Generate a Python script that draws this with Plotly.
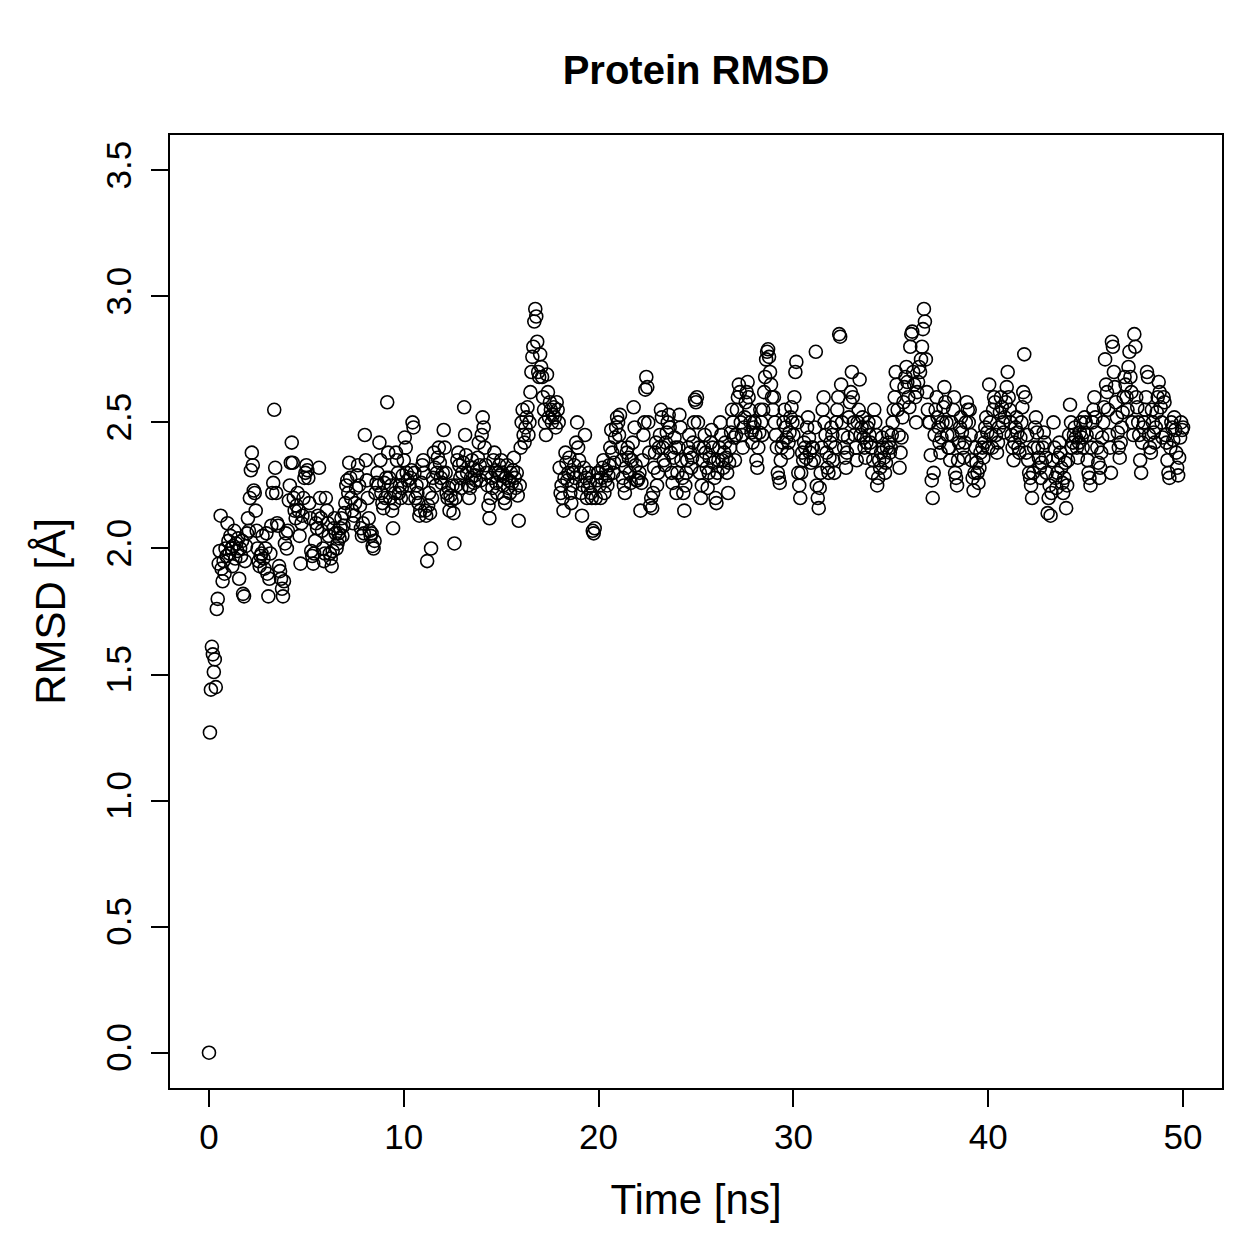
import numpy as np
import plotly.graph_objects as go

# RMSD values (Å), one frame every 0.05 ns
rmsd_rows = [
    [0.00, 1.27, 1.44, 1.61, 1.58, 1.51, 1.56, 1.45, 1.76, 1.80, 1.94, 1.99, 2.13, 1.92, 1.87, 1.95, 1.90, 2.00, 1.97, 2.10],
    [2.03, 1.98, 2.05, 2.00, 1.93, 2.01, 2.07, 1.96, 2.02, 1.99, 2.04, 1.88, 2.00, 1.97, 2.03, 1.82, 1.81, 1.95, 2.01, 2.06],
    [2.12, 2.07, 2.20, 2.31, 2.38, 2.33, 2.23, 2.22, 2.15, 2.07, 2.00, 1.95, 1.93, 1.97, 1.98, 2.05, 1.96, 1.92, 2.00, 2.06],
    [1.90, 1.81, 1.88, 1.98, 2.09, 2.22, 2.26, 2.55, 2.32, 2.22, 2.10, 2.09, 1.93, 1.91, 1.88, 1.84, 1.81, 1.87, 2.02, 2.06],
    [2.00, 2.07, 2.19, 2.25, 2.34, 2.42, 2.34, 2.20, 2.15, 2.12, 2.17, 2.22, 2.15, 2.05, 1.94, 2.10, 2.13, 2.20, 2.28, 2.30],
    [2.33, 2.31, 2.28, 2.18, 2.12, 1.99, 1.97, 1.94, 1.98, 2.03, 2.10, 2.08, 2.13, 2.32, 2.20, 2.12, 2.07, 2.00, 1.95, 1.98],
    [2.20, 2.15, 2.10, 2.05, 1.98, 1.96, 1.93, 1.99, 2.08, 2.12, 2.06, 2.00, 2.02, 2.06, 2.04, 2.08, 2.12, 2.05, 2.09, 2.14],
    [2.18, 2.25, 2.27, 2.22, 2.34, 2.28, 2.20, 2.15, 2.10, 2.13, 2.18, 2.24, 2.29, 2.33, 2.25, 2.17, 2.08, 2.05, 2.10, 2.06],
    [2.45, 2.35, 2.27, 2.20, 2.12, 2.07, 2.05, 2.06, 2.01, 2.00, 2.03, 2.22, 2.26, 2.30, 2.25, 2.42, 2.35, 2.22, 2.18, 2.16],
    [2.26, 2.20, 2.28, 2.58, 2.38, 2.28, 2.20, 2.25, 2.15, 2.08, 2.18, 2.22, 2.38, 2.35, 2.30, 2.22, 2.25, 2.20, 2.24, 2.29],
    [2.35, 2.44, 2.40, 2.30, 2.27, 2.20, 2.25, 2.28, 2.31, 2.50, 2.48, 2.30, 2.20, 2.25, 2.22, 2.18, 2.13, 2.15, 2.26, 2.33],
    [2.35, 2.30, 2.15, 2.13, 1.95, 2.17, 2.22, 2.14, 2.00, 2.20, 2.28, 2.38, 2.32, 2.25, 2.30, 2.36, 2.40, 2.34, 2.28, 2.26],
    [2.30, 2.47, 2.40, 2.30, 2.22, 2.20, 2.24, 2.15, 2.21, 2.19, 2.25, 2.14, 2.02, 2.20, 2.25, 2.35, 2.38, 2.33, 2.28, 2.24],
    [2.30, 2.34, 2.56, 2.45, 2.37, 2.30, 2.25, 2.20, 2.24, 2.28, 2.35, 2.32, 2.26, 2.29, 2.27, 2.31, 2.36, 2.42, 2.33, 2.27],
    [2.45, 2.52, 2.48, 2.40, 2.33, 2.30, 2.25, 2.17, 2.12, 2.20, 2.28, 2.24, 2.35, 2.38, 2.31, 2.26, 2.22, 2.30, 2.33, 2.29],
    [2.35, 2.30, 2.25, 2.20, 2.18, 2.28, 2.33, 2.24, 2.27, 2.22, 2.30, 2.26, 2.31, 2.36, 2.28, 2.24, 2.30, 2.21, 2.11, 2.25],
    [2.40, 2.50, 2.55, 2.45, 2.42, 2.48, 2.52, 2.56, 2.45, 2.50, 2.62, 2.70, 2.76, 2.80, 2.90, 2.95, 2.92, 2.82, 2.70, 2.68],
    [2.77, 2.72, 2.68, 2.60, 2.55, 2.50, 2.45, 2.69, 2.62, 2.52, 2.58, 2.55, 2.50, 2.53, 2.56, 2.52, 2.48, 2.58, 2.55, 2.50],
    [2.32, 2.22, 2.25, 2.20, 2.15, 2.28, 2.38, 2.34, 2.27, 2.30, 2.36, 2.22, 2.18, 2.25, 2.30, 2.33, 2.28, 2.42, 2.50, 2.40],
    [2.35, 2.30, 2.22, 2.13, 2.25, 2.32, 2.45, 2.28, 2.20, 2.24, 2.30, 2.26, 2.22, 2.20, 2.07, 2.06, 2.08, 2.20, 2.27, 2.30],
    [2.30, 2.25, 2.20, 2.28, 2.32, 2.35, 2.22, 2.27, 2.31, 2.25, 2.29, 2.33, 2.40, 2.47, 2.38, 2.30, 2.34, 2.44, 2.48, 2.52],
    [2.50, 2.45, 2.53, 2.40, 2.35, 2.28, 2.25, 2.22, 2.32, 2.38, 2.40, 2.36, 2.30, 2.26, 2.35, 2.42, 2.56, 2.48, 2.33, 2.27],
    [2.27, 2.28, 2.30, 2.15, 2.26, 2.35, 2.45, 2.50, 2.63, 2.68, 2.64, 2.50, 2.38, 2.17, 2.20, 2.16, 2.22, 2.32, 2.38, 2.42],
    [2.25, 2.30, 2.40, 2.45, 2.55, 2.52, 2.40, 2.35, 2.33, 2.42, 2.46, 2.50, 2.53, 2.48, 2.38, 2.30, 2.26, 2.36, 2.44, 2.40],
    [2.22, 2.30, 2.40, 2.53, 2.48, 2.35, 2.28, 2.22, 2.15, 2.25, 2.30, 2.35, 2.40, 2.45, 2.38, 2.32, 2.36, 2.42, 2.50, 2.59],
    [2.58, 2.60, 2.50, 2.40, 2.30, 2.20, 2.25, 2.35, 2.40, 2.45, 2.38, 2.32, 2.24, 2.30, 2.36, 2.42, 2.47, 2.40, 2.34, 2.28],
    [2.20, 2.18, 2.30, 2.35, 2.40, 2.50, 2.45, 2.35, 2.32, 2.38, 2.42, 2.36, 2.30, 2.22, 2.34, 2.40, 2.46, 2.55, 2.50, 2.44],
    [2.35, 2.45, 2.55, 2.60, 2.65, 2.62, 2.50, 2.45, 2.40, 2.48, 2.52, 2.58, 2.62, 2.66, 2.60, 2.55, 2.50, 2.46, 2.42, 2.48],
    [2.50, 2.45, 2.35, 2.32, 2.40, 2.46, 2.55, 2.50, 2.45, 2.55, 2.62, 2.68, 2.75, 2.78, 2.79, 2.76, 2.70, 2.65, 2.60, 2.55],
    [2.60, 2.50, 2.45, 2.40, 2.30, 2.28, 2.26, 2.35, 2.40, 2.42, 2.50, 2.55, 2.48, 2.44, 2.38, 2.42, 2.46, 2.52, 2.56, 2.50],
    [2.45, 2.60, 2.70, 2.74, 2.50, 2.30, 2.25, 2.20, 2.30, 2.38, 2.35, 2.42, 2.40, 2.36, 2.48, 2.52, 2.44, 2.38, 2.34, 2.40],
    [2.40, 2.35, 2.48, 2.78, 2.25, 2.20, 2.16, 2.24, 2.30, 2.40, 2.55, 2.60, 2.50, 2.45, 2.38, 2.32, 2.30, 2.36, 2.42, 2.48],
    [2.45, 2.35, 2.30, 2.40, 2.50, 2.55, 2.60, 2.85, 2.84, 2.65, 2.50, 2.45, 2.40, 2.36, 2.32, 2.38, 2.44, 2.52, 2.58, 2.62],
    [2.70, 2.60, 2.50, 2.45, 2.40, 2.35, 2.50, 2.55, 2.67, 2.45, 2.48, 2.52, 2.44, 2.40, 2.36, 2.42, 2.48, 2.50, 2.45, 2.42],
    [2.40, 2.30, 2.35, 2.55, 2.50, 2.45, 2.25, 2.28, 2.35, 2.32, 2.38, 2.44, 2.40, 2.36, 2.30, 2.34, 2.40, 2.46, 2.42, 2.38],
    [2.40, 2.45, 2.50, 2.55, 2.60, 2.70, 2.65, 2.55, 2.45, 2.32, 2.38, 2.44, 2.52, 2.58, 2.64, 2.68, 2.72, 2.66, 2.60, 2.56],
    [2.80, 2.85, 2.86, 2.70, 2.65, 2.60, 2.50, 2.62, 2.66, 2.72, 2.70, 2.75, 2.80, 2.87, 2.95, 2.90, 2.75, 2.62, 2.55, 2.50],
    [2.50, 2.37, 2.27, 2.20, 2.30, 2.45, 2.55, 2.60, 2.52, 2.48, 2.42, 2.38, 2.44, 2.50, 2.56, 2.64, 2.58, 2.50, 2.45, 2.40],
    [2.40, 2.35, 2.50, 2.45, 2.55, 2.60, 2.30, 2.28, 2.25, 2.35, 2.42, 2.48, 2.52, 2.46, 2.40, 2.36, 2.42, 2.50, 2.58, 2.55],
    [2.50, 2.55, 2.45, 2.35, 2.28, 2.23, 2.30, 2.40, 2.34, 2.30, 2.26, 2.32, 2.38, 2.44, 2.40, 2.36, 2.42, 2.48, 2.52, 2.46],
    [2.40, 2.65, 2.50, 2.45, 2.40, 2.55, 2.60, 2.58, 2.45, 2.38, 2.42, 2.48, 2.54, 2.60, 2.56, 2.50, 2.46, 2.52, 2.58, 2.64],
    [2.70, 2.60, 2.55, 2.50, 2.45, 2.40, 2.35, 2.42, 2.48, 2.52, 2.46, 2.40, 2.38, 2.44, 2.50, 2.56, 2.62, 2.77, 2.60, 2.38],
    [2.45, 2.35, 2.30, 2.28, 2.25, 2.20, 2.30, 2.40, 2.48, 2.52, 2.46, 2.40, 2.36, 2.32, 2.28, 2.34, 2.40, 2.46, 2.42, 2.36],
    [2.30, 2.14, 2.20, 2.25, 2.13, 2.22, 2.35, 2.50, 2.40, 2.28, 2.24, 2.30, 2.36, 2.42, 2.38, 2.32, 2.26, 2.22, 2.28, 2.34],
    [2.16, 2.25, 2.35, 2.45, 2.57, 2.50, 2.40, 2.42, 2.45, 2.48, 2.44, 2.40, 2.36, 2.42, 2.46, 2.50, 2.44, 2.40, 2.46, 2.52],
    [2.50, 2.45, 2.35, 2.30, 2.28, 2.25, 2.40, 2.50, 2.55, 2.60, 2.52, 2.46, 2.40, 2.34, 2.28, 2.32, 2.38, 2.44, 2.50, 2.56],
    [2.75, 2.65, 2.62, 2.55, 2.45, 2.40, 2.30, 2.82, 2.80, 2.70, 2.64, 2.58, 2.52, 2.46, 2.40, 2.36, 2.42, 2.48, 2.54, 2.60],
    [2.68, 2.65, 2.60, 2.55, 2.72, 2.78, 2.68, 2.62, 2.50, 2.45, 2.85, 2.80, 2.60, 2.56, 2.50, 2.45, 2.35, 2.30, 2.42, 2.48],
    [2.50, 2.55, 2.60, 2.70, 2.68, 2.45, 2.40, 2.38, 2.55, 2.50, 2.46, 2.42, 2.48, 2.54, 2.60, 2.66, 2.62, 2.56, 2.50, 2.44],
    [2.60, 2.58, 2.45, 2.42, 2.35, 2.30, 2.28, 2.40, 2.50, 2.48, 2.43, 2.52, 2.47, 2.38, 2.32, 2.29, 2.36, 2.44, 2.50, 2.47],
    [2.48],
]
frame_step_ns = 0.05

rmsd = [v for row in rmsd_rows for v in row]
time_ns = [round(i * frame_step_ns, 2) for i in range(len(rmsd))]

x_ticks = [0, 10, 20, 30, 40, 50]
y_ticks = [0.0, 0.5, 1.0, 1.5, 2.0, 2.5, 3.0, 3.5]
y_tick_labels = ["0.0", "0.5", "1.0", "1.5", "2.0", "2.5", "3.0", "3.5"]

FONT = "Liberation Sans, Arial, Helvetica, sans-serif"

fig = go.Figure(
    go.Scatter(
        x=time_ns, y=rmsd, mode="markers",
        marker=dict(symbol="circle-open", size=13, color="black",
                    line=dict(width=1.6, color="black")),
        showlegend=False, hoverinfo="x+y",
    )
)

fig.update_layout(
    width=1259, height=1259,
    margin=dict(l=170, r=37, t=135, b=171, pad=0),
    paper_bgcolor="white", plot_bgcolor="white",
    font=dict(family=FONT, size=35, color="black"),
    title=dict(text="<b>Protein RMSD</b>", x=(170 + 1222) / 2 / 1259, xanchor="center",
               y=1 - 70 / 1259, yanchor="middle", font=dict(size=40, family=FONT)),
    xaxis=dict(
        range=[-2, 52], tickvals=x_ticks, ticks="outside", ticklen=17, tickwidth=2,
        tickcolor="black", showgrid=False, zeroline=False, showline=True,
        linecolor="black", linewidth=2, mirror=True,
        title=dict(text="Time [ns]", standoff=30), tickfont=dict(size=35),
    ),
    yaxis=dict(
        range=[-0.14, 3.64], tickvals=y_ticks, ticktext=y_tick_labels, tickangle=-90,
        ticks="outside", ticklen=17, tickwidth=2, tickcolor="black",
        showgrid=False, zeroline=False, showline=True, linecolor="black",
        linewidth=2, mirror=True, ticklabelstandoff=6,
        title=dict(text="RMSD [Å]", standoff=20), tickfont=dict(size=35),
    ),
)

fig.write_html("out.html")
